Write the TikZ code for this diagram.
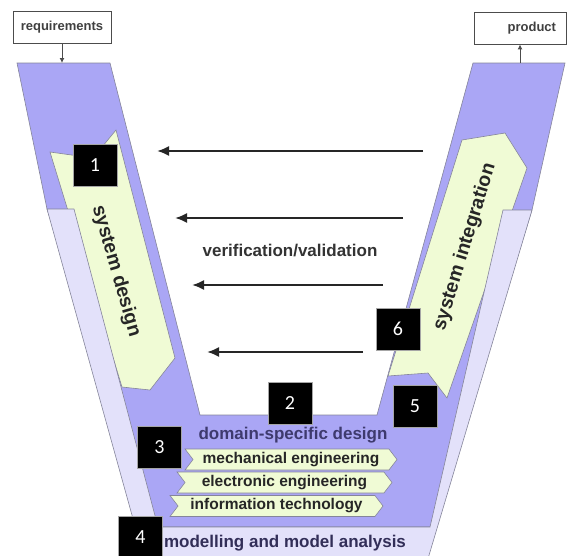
\documentclass[tikz,border=0pt]{standalone}
\usepackage{fontspec}
\setsansfont{Liberation Sans}
\newfontfamily\numfont{Carlito}
\usetikzlibrary{arrows.meta,shapes.symbols}

\definecolor{vpurple}{HTML}{AAA6F5}
\definecolor{vlight}{HTML}{E3E1FA}
\definecolor{vgreen}{HTML}{F0FBD5}
\definecolor{vedge}{HTML}{85859A}
\definecolor{vtext}{HTML}{3E3A6E}

\begin{document}
\begin{tikzpicture}[x=1pt,y=-1pt,font=\sffamily\bfseries,
    vshape/.style={fill=vpurple,draw=vedge,line width=0.6pt},
    vband/.style={fill=vlight,draw=vedge,line width=0.6pt},
    vstage/.style={fill=vgreen,draw=vedge,line width=0.6pt},
    numbox/.style={fill=black,draw=gray!70,text=white,minimum width=44pt,minimum height=42pt,
        inner sep=0pt,font=\numfont\fontsize{20}{22}\selectfont},
    iobox/.style={draw=black!70,fill=white,line width=0.8pt,minimum height=32pt,inner sep=0pt,
        text=black!75,font=\sffamily\bfseries\fontsize{13}{15}\selectfont},
    domainbox/.style={shape=signal,signal from=west,signal to=east,signal pointer angle=105,
        fill=vgreen,draw=vedge,line width=0.6pt,minimum height=21pt,inner sep=0pt,
        text=black!85,font=\sffamily\bfseries\fontsize{15.5}{17}\selectfont},
    vvarrow/.style={-{Latex[length=12pt,width=10pt]},line width=2pt,draw=black!85},
    ioarrow/.style={-{Latex[length=5pt,width=5pt]},line width=1pt,draw=black!70}]

    \useasboundingbox (0,0) rectangle (567,555);

    % the V
    \draw[vshape] (17,63) -- (110,63) -- (200,415) -- (377,415) -- (473,63) -- (565,63)
        -- (532,210) -- (434,527) -- (150,527) -- (47,209) -- cycle;

    % system design / system integration
    \draw[vstage] (50,152) -- (93,158) -- (116,130) -- (175,358) -- (150,390) -- (122,387) -- cycle;
    \draw[vstage] (462,140) -- (505,133) -- (527,168) -- (447,398) -- (428,373) -- (388,376) -- cycle;

    % modelling band
    \draw[vband] (47,209) -- (74,209) -- (158,527) -- (430,527) -- (503,210) -- (532,210)
        -- (427,562) -- (145,562) -- cycle;

    \node[rotate=-74,text=black!85,font=\sffamily\bfseries\fontsize{19.5}{21}\selectfont] (sysdesign) at (116,271) {system design};
    \node[rotate=73,text=black!85,font=\sffamily\bfseries\fontsize{19.5}{21}\selectfont] (sysint) at (465,247) {system integration};

    % inputs and outputs
    \node[iobox,minimum width=98pt] (req) at (62,27) {requirements};
    \node[iobox,text width=72pt,inner xsep=10pt,align=right] (prod) at (520,28) {product};
    \coordinate (reqin) at (62,63);
    \coordinate (prodout) at (520,63);
    \draw[ioarrow] (req.south) -- (reqin);
    \draw[ioarrow] (prodout) -- (prod.south);

    % verification/validation
    \foreach \i/\xa/\xb/\yy in {1/423/157/151,2/403/175/218,3/383/192/285,4/363/207/352}{
        \coordinate (vstart\i) at (\xa,\yy);
        \coordinate (vend\i) at (\xb,\yy);
        \draw[vvarrow] (vstart\i) -- (vend\i);
    }
    \node[text=black!80,font=\sffamily\bfseries\fontsize{17}{19}\selectfont] (vv) at (290,251) {verification/validation};

    % domain-specific design
    \node[text=vtext,font=\sffamily\bfseries\fontsize{17}{19}\selectfont] (dsd) at (293,435) {domain-specific design};
    \node[domainbox,minimum width=212pt] (mech) at (291,459.5) {mechanical engineering};
    \node[domainbox,minimum width=215pt] (elec) at (284.5,482.5) {electronic engineering};
    \node[domainbox,minimum width=213pt] (info) at (276.5,506) {information technology};

    \node[text=vtext!80!black,font=\sffamily\bfseries\fontsize{17}{19}\selectfont] (mma) at (285,543) {modelling and model analysis};

    % numbers
    \node[numbox] (n1) at (95,165) {1};
    \node[numbox] (n2) at (290,403) {2};
    \node[numbox] (n3) at (159.5,447.5) {3};
    \node[numbox] (n4) at (140.5,537) {4};
    \node[numbox] (n5) at (415,406) {5};
    \node[numbox] (n6) at (398,329) {6};
\end{tikzpicture}
\end{document}
